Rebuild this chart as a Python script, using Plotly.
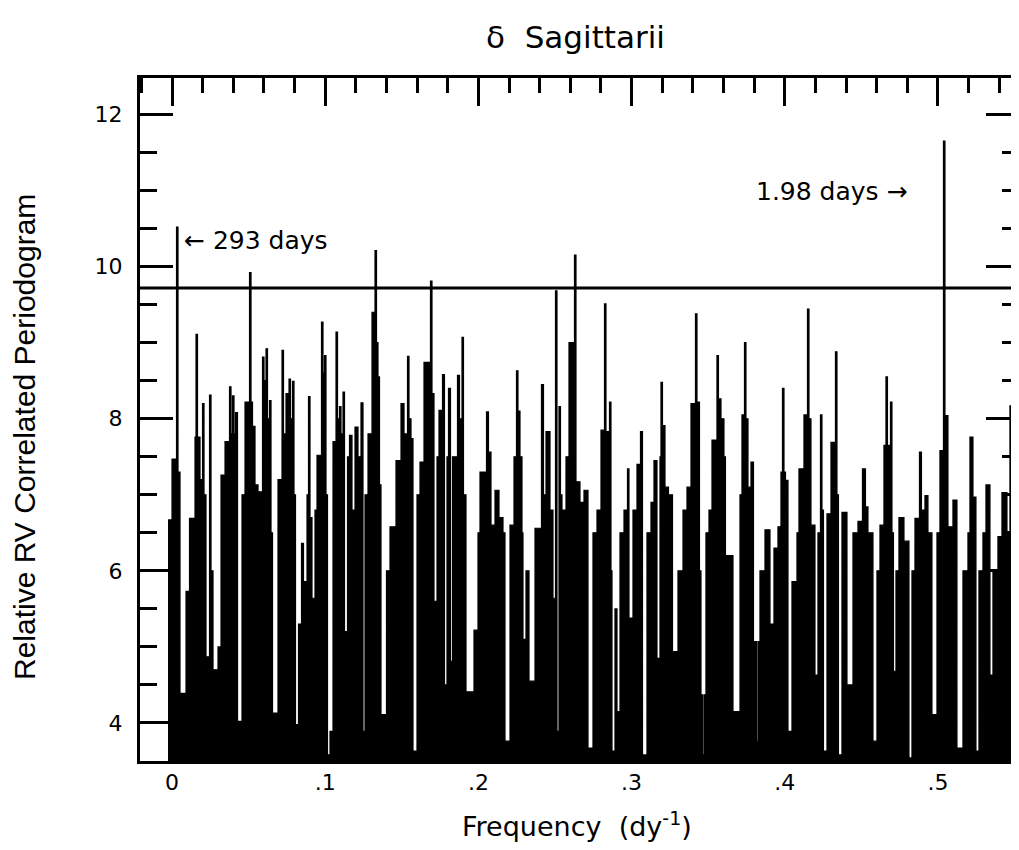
import plotly.graph_objects as go

# Periodogram envelope (frequency in 1/day, relative power)
freq = [-0.00261, 0.0, 0.00294, 0.00392, 0.00522, 0.00914, 0.01142, 0.01501, 0.01567, 0.01664,
        0.01828, 0.01991, 0.02089, 0.02219, 0.02448, 0.02546, 0.02676, 0.03003, 0.03198, 0.03460,
        0.03753, 0.03851, 0.03949, 0.04047, 0.04145, 0.04276, 0.04569, 0.04765, 0.05059, 0.05157,
        0.05255, 0.05418, 0.05614, 0.05907, 0.06005, 0.06136, 0.06234, 0.06364, 0.06462, 0.06560,
        0.06919, 0.07180, 0.07278, 0.07441, 0.07572, 0.07637, 0.07735, 0.07866, 0.07963, 0.08061,
        0.08257, 0.08453, 0.08584, 0.08812, 0.08910, 0.09008, 0.09138, 0.09334, 0.09465, 0.09758,
        0.09856, 0.09954, 0.10052, 0.10150, 0.10313, 0.10509, 0.10705, 0.10803, 0.10933, 0.11031,
        0.11162, 0.11260, 0.11456, 0.11586, 0.11749, 0.11945, 0.12141, 0.12337, 0.12467, 0.12598,
        0.12794, 0.13055, 0.13251, 0.13349, 0.13446, 0.13544, 0.13642, 0.14001, 0.14230, 0.14621,
        0.14948, 0.15144, 0.15372, 0.15470, 0.15601, 0.15731, 0.15992, 0.16188, 0.16449, 0.16873,
        0.16971, 0.17102, 0.17298, 0.17428, 0.17657, 0.17787, 0.17950, 0.18048, 0.18179, 0.18309,
        0.18636, 0.18766, 0.18930, 0.19027, 0.19191, 0.19713, 0.19974, 0.20104, 0.20529, 0.20659,
        0.20822, 0.21084, 0.21345, 0.21606, 0.21736, 0.22063, 0.22324, 0.22487, 0.22585, 0.22715,
        0.22846, 0.22911, 0.23107, 0.23303, 0.23695, 0.24119, 0.24250, 0.24413, 0.24674, 0.24869,
        0.25033, 0.25131, 0.25261, 0.25359, 0.25457, 0.25718, 0.25914, 0.26273, 0.26371, 0.26632,
        0.26893, 0.27154, 0.27480, 0.27742, 0.28003, 0.28231, 0.28329, 0.28557, 0.28655, 0.28721,
        0.28916, 0.29047, 0.29243, 0.29504, 0.29732, 0.29830, 0.30091, 0.30352, 0.30581, 0.30712,
        0.31005, 0.31266, 0.31462, 0.31658, 0.31854, 0.31919, 0.32017, 0.32180, 0.32409, 0.32670,
        0.33029, 0.33355, 0.33616, 0.33877, 0.34171, 0.34269, 0.34432, 0.34530, 0.34628, 0.34726,
        0.34856, 0.35052, 0.35248, 0.35574, 0.35672, 0.35836, 0.36031, 0.36129, 0.36619, 0.37076,
        0.37206, 0.37370, 0.37467, 0.37598, 0.37794, 0.37957, 0.38153, 0.38251, 0.38381, 0.38708,
        0.39034, 0.39295, 0.39556, 0.39752, 0.39850, 0.39948, 0.40046, 0.40209, 0.40470, 0.40796,
        0.40927, 0.41253, 0.41482, 0.41580, 0.41710, 0.41971, 0.42167, 0.42330, 0.42428, 0.42526,
        0.42755, 0.43016, 0.43309, 0.43407, 0.43505, 0.43734, 0.44060, 0.44452, 0.44778, 0.45072,
        0.45268, 0.45431, 0.45757, 0.46018, 0.46214, 0.46475, 0.46606, 0.46704, 0.46900, 0.46997,
        0.47095, 0.47258, 0.47454, 0.47781, 0.48107, 0.48303, 0.48499, 0.48793, 0.48923, 0.49151,
        0.49347, 0.49608, 0.49935, 0.50130, 0.50359, 0.50457, 0.50653, 0.50979, 0.51240, 0.51632,
        0.51958, 0.52089, 0.52285, 0.52480, 0.52676, 0.52937, 0.53133, 0.53394, 0.53590, 0.53916,
        0.54177, 0.54504, 0.54700, 0.54896, 0.55091, 0.55418]

power = [6.67, 7.47, 10.52, 7.30, 4.39, 5.73, 6.69, 7.76, 9.11, 7.76,
         7.20, 8.20, 7.00, 4.87, 8.31, 6.00, 4.70, 5.00, 7.26, 7.70,
         8.42, 7.80, 8.30, 7.80, 8.08, 4.02, 7.00, 8.22, 9.92, 8.22,
         7.90, 7.13, 7.04, 8.81, 8.50, 8.92, 8.00, 8.24, 6.50, 4.13,
         7.20, 8.90, 7.80, 8.33, 7.80, 8.52, 8.00, 8.49, 7.00, 3.98,
         5.30, 6.36, 5.86, 7.00, 8.29, 6.70, 5.64, 6.80, 7.52, 9.27,
         8.60, 8.83, 7.00, 3.58, 3.89, 7.70, 9.14, 8.00, 8.16, 7.80,
         8.35, 5.20, 7.50, 7.78, 6.80, 7.89, 7.50, 8.21, 3.89, 7.00,
         7.80, 9.40, 10.21, 9.00, 8.55, 7.13, 4.11, 6.00, 6.58, 7.45,
         8.20, 7.80, 8.82, 8.00, 7.74, 3.63, 7.00, 7.43, 8.74, 9.81,
         8.33, 5.60, 7.50, 8.11, 8.58, 4.50, 7.50, 8.40, 4.81, 7.50,
         8.57, 8.00, 9.07, 7.00, 4.41, 5.22, 6.50, 7.30, 8.09, 7.56,
         6.60, 7.06, 6.70, 6.50, 3.76, 6.60, 7.50, 8.63, 8.10, 7.50,
         6.50, 5.10, 6.00, 4.55, 6.56, 8.45, 7.00, 7.83, 6.80, 5.64,
         9.68, 3.89, 8.16, 7.00, 6.80, 7.50, 9.00, 10.15, 7.17, 6.90,
         7.06, 3.67, 6.50, 6.80, 7.85, 9.51, 7.83, 8.22, 6.00, 3.63,
         5.50, 4.15, 6.50, 6.80, 7.34, 5.38, 6.80, 7.40, 7.83, 3.58,
         6.50, 6.90, 7.45, 4.85, 7.50, 8.48, 7.91, 7.10, 7.00, 4.94,
         6.00, 6.80, 7.10, 8.20, 9.38, 8.22, 6.00, 4.37, 3.58, 4.37,
         6.50, 6.80, 7.72, 8.83, 8.26, 8.00, 7.50, 6.20, 4.15, 7.00,
         8.05, 9.00, 8.00, 7.10, 7.43, 5.07, 3.76, 5.07, 6.00, 6.54,
         5.30, 6.30, 6.58, 7.30, 8.40, 7.30, 7.19, 3.89, 5.86, 6.50,
         7.34, 8.05, 9.44, 8.00, 6.60, 4.63, 6.50, 8.05, 6.80, 3.63,
         6.75, 7.69, 8.88, 7.00, 3.58, 6.77, 4.50, 6.50, 6.65, 7.34,
         6.84, 6.50, 3.76, 6.00, 6.60, 7.65, 8.55, 7.65, 8.22, 6.50,
         4.68, 6.00, 6.70, 6.39, 3.54, 6.00, 6.69, 7.56, 6.80, 6.99,
         6.50, 4.11, 6.50, 7.58, 11.65, 8.04, 6.58, 6.93, 3.67, 6.00,
         6.50, 7.76, 6.97, 3.63, 6.00, 6.50, 7.13, 4.63, 6.00, 6.45,
         7.03, 6.50, 8.17, 8.66, 7.00, 7.00]

threshold = 9.72
x_tickvals = [0, 0.1, 0.2, 0.3, 0.4, 0.5]
x_ticktext = ["0", ".1", ".2", ".3", ".4", ".5"]
y_tickvals = [4, 6, 8, 10, 12]
x_range = [-0.0209, 0.5529]
y_range = [3.5, 12.48]

label_font = "DejaVu Sans"

fig = go.Figure()
fig.add_trace(go.Scatter(
    x=freq, y=power, mode="lines",
    line=dict(shape="hv", color="black", width=1.2),
    fill="tozeroy", fillcolor="black",
    showlegend=False, hoverinfo="skip"))
fig.add_trace(go.Scatter(x=[None], y=[None], xaxis="x2", yaxis="y2",
                         showlegend=False, hoverinfo="skip"))

fig.add_shape(type="line", xref="paper", yref="y", x0=0, x1=1,
              y0=threshold, y1=threshold, line=dict(color="black", width=3))

axis_common = dict(showgrid=False, zeroline=False, linecolor="black",
                   tickcolor="black")

# page has an 8px body margin: figure is sized so that the page is 1019x850
fig.update_layout(
    width=1011, height=834,
    margin=dict(l=132, r=0, t=70, b=81),
    plot_bgcolor="white", paper_bgcolor="white",
    xaxis=dict(range=x_range, tickvals=x_tickvals, ticktext=x_ticktext,
               ticks="", showline=True, linewidth=3,
               tickfont=dict(family=label_font, size=22, color="black"),
               **axis_common),
    xaxis2=dict(range=x_range, overlaying="x", side="top", showline=True,
                linewidth=3, ticks="inside", ticklen=28, tickwidth=3,
                tick0=0, dtick=0.1, showticklabels=False,
                minor=dict(ticks="inside", dtick=0.02, tick0=0, ticklen=15,
                           tickwidth=3, tickcolor="black"),
                **axis_common),
    yaxis=dict(range=y_range, tickvals=y_tickvals, showline=True, linewidth=3,
               ticks="inside", ticklen=33, tickwidth=3, ticklabelstandoff=10,
               minor=dict(ticks="inside", dtick=0.5, tick0=0, ticklen=17,
                          tickwidth=3, tickcolor="black"),
               tickfont=dict(family=label_font, size=22, color="black"),
               **axis_common),
    yaxis2=dict(range=y_range, overlaying="y", side="right", showline=False,
                ticks="inside", ticklen=33, tickwidth=3, tick0=0, dtick=2,
                showticklabels=False,
                minor=dict(ticks="inside", dtick=0.5, tick0=0, ticklen=17,
                           tickwidth=3, tickcolor="black"),
                **axis_common),
)

fig.add_annotation(text="δ  Sagittarii", xref="paper", yref="paper",
                   x=(575 - 140) / 879, y=(761 - 37) / 683,
                   showarrow=False, xanchor="center", yanchor="middle",
                   font=dict(family=label_font, size=31, color="black"))
fig.add_annotation(text="Frequency  (dy<sup>-1</sup>)", xref="paper", yref="paper",
                   x=(577 - 140) / 879, y=(761 - 824) / 683,
                   showarrow=False, xanchor="center", yanchor="middle",
                   font=dict(family=label_font, size=27, color="black"))
fig.add_annotation(text="Relative RV Correlated Periodogram", xref="paper", yref="paper",
                   x=(24 - 140) / 879, y=(761 - 437) / 683, textangle=-90,
                   showarrow=False, xanchor="center", yanchor="middle",
                   font=dict(family="Liberation Sans", size=30, color="black"))
fig.add_annotation(text="← 293 days", xref="x", yref="y",
                   x=0.0065, y=10.35, showarrow=False,
                   xanchor="left", yanchor="middle",
                   font=dict(family=label_font, size=25, color="black"))
fig.add_annotation(text="1.98 days →", xref="x", yref="y",
                   x=0.4817, y=10.99, showarrow=False,
                   xanchor="right", yanchor="middle",
                   font=dict(family=label_font, size=25, color="black"))

fig.write_html("out.html")
